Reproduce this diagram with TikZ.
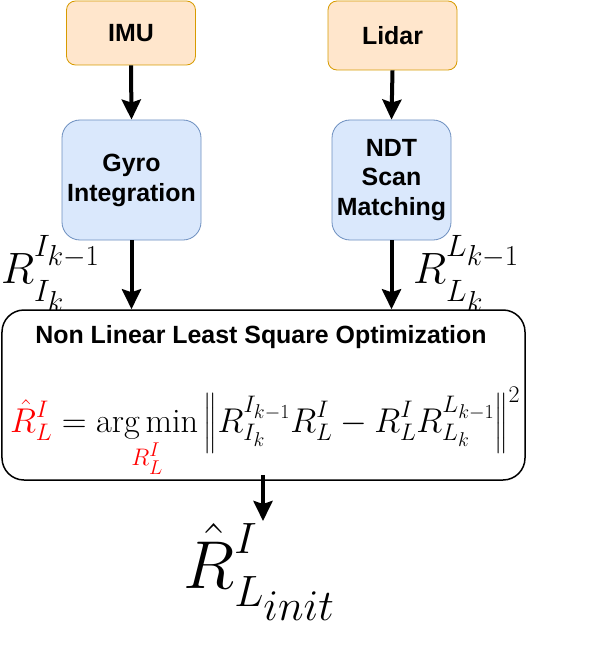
\RequirePackage{fix-cm}
\documentclass[tikz,border=0pt]{standalone}
\usepackage{amsmath}
\usepackage{fontspec}
\newfontfamily\boxfont{Liberation Sans}
\usetikzlibrary{arrows.meta}
\DeclareMathSizes{44}{44}{31}{29}
\DeclareMathSizes{68}{68}{44}{44}
\DeclareMathSizes{34.5}{34.5}{24}{20}
\definecolor{orfill}{HTML}{FFE6CC}
\definecolor{ordraw}{HTML}{D79B00}
\definecolor{blfill}{HTML}{DAE8FC}
\definecolor{bldraw}{HTML}{6C8EBF}
\tikzset{
  boxtext/.style={font=\boxfont\bfseries\fontsize{25}{30}\selectfont, align=center, inner sep=0pt},
  src/.style={boxtext, draw=ordraw, fill=orfill, rounded corners=9bp, line width=0.8bp},
  proc/.style={boxtext, draw=bldraw, fill=blfill, rounded corners=18bp, line width=0.8bp},
  optbox/.style={draw=black, fill=white, rounded corners=22bp, line width=1.5bp, inner sep=0pt},
  arr/.style={-{Stealth[length=20bp,width=19bp,inset=3bp]}, line width=4bp},
  mlabel/.style={anchor=base west, inner sep=0pt, font=\fontsize{44}{50}\selectfont},
  bigmath/.style={anchor=base west, inner sep=0pt, font=\fontsize{68}{74}\selectfont},
  eqmath/.style={anchor=base west, inner sep=0pt, font=\fontsize{34.5}{40}\selectfont},
}
\begin{document}
\begin{tikzpicture}[x=1bp,y=-1bp]
\useasboundingbox (0,0) rectangle (592,661);
% sources
\node[src, minimum width=129bp, minimum height=64bp] (imu) at (131,33) {IMU};
\node[src, minimum width=129bp, minimum height=69bp] (lidar) at (392.5,35.5) {Lidar};
% processing
\node[proc, minimum width=139bp, minimum height=120bp] (gyro) at (131.5,180) {Gyro\\Integration};
\node[proc, minimum width=119bp, minimum height=120bp] (ndt) at (391.5,180) {NDT\\Scan\\Matching};
% labels
\node[mlabel] (lblI) at (1,283)
  {$R$\rlap{\raisebox{-19pt}{$\scriptstyle I_k$}}\raisebox{27pt}{$\scriptstyle I_{k-1}$}};
\node[mlabel] (lblL) at (413,283)
  {$R$\rlap{\raisebox{-19pt}{$\scriptstyle L_k$}}\raisebox{27pt}{$\scriptstyle L_{k-1}$}};
% optimisation box
\node[optbox, minimum width=523bp, minimum height=170bp] (opt) at (263.5,395) {};
\node[boxtext] (title) at (261,337) {Non Linear Least Square Optimization};
\node[eqmath] (eq) at (10,432)
  {$\displaystyle \textcolor{red}{\hat{R}^I_L} = \operatorname*{arg\,min}_{\textcolor{red}{R^I_L}} \left\| R^{I_{k-1}}_{I_k} R^I_L - R^I_L R^{L_{k-1}}_{L_k} \right\|^2$};
% output
\node[bigmath] (out) at (183,588)
  {$\hat{R}$\rlap{\raisebox{-19pt}{$\scriptstyle L_{init}$}}\raisebox{35pt}{$\scriptstyle I$}};
\coordinate (outtip) at (263,521);
% arrows
\draw[arr] (imu.south) -- (gyro.north);
\draw[arr] (lidar.south) -- (ndt.north);
\draw[arr] (gyro.south) -- (gyro.south |- opt.north);
\draw[arr] (ndt.south) -- (ndt.south |- opt.north);
\draw[arr] ([yshift=6bp]opt.south -| outtip) -- (outtip);
\end{tikzpicture}
\end{document}
